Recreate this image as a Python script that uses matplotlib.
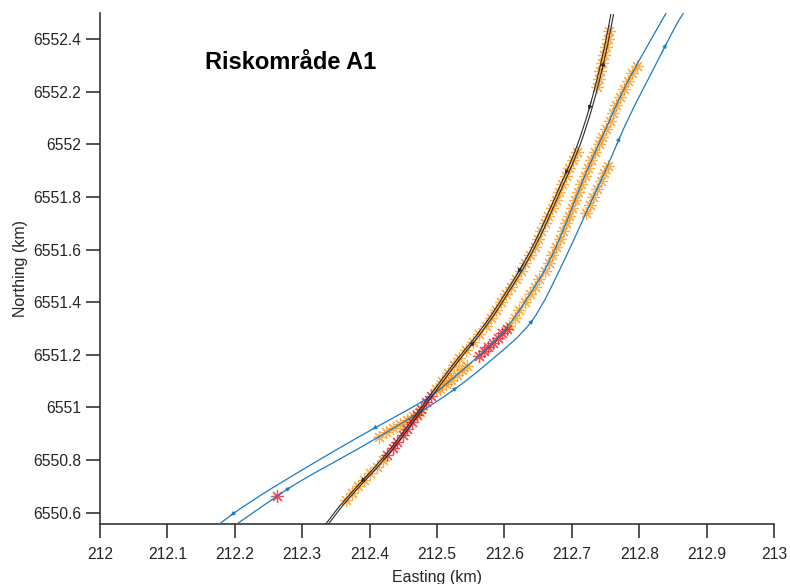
import numpy as np
import matplotlib
matplotlib.use('Agg')
import matplotlib.pyplot as plt
from matplotlib.path import Path
from matplotlib.patches import PathPatch

plt.rcParams['font.family'] = ['Liberation Sans', 'DejaVu Sans']

# Ship tracks (km)
black_y = [6550.557, 6550.648, 6550.808, 6550.934, 6551.055, 6551.192, 6551.295, 6551.439,
           6551.610, 6551.846, 6551.941, 6552.067, 6552.219, 6552.386, 6552.496]
black_a_x = [212.335, 212.362, 212.421, 212.458, 212.492, 212.532, 212.566, 212.603,
             212.643, 212.683, 212.700, 212.718, 212.735, 212.750, 212.758]
black_b_x = [212.339, 212.366, 212.425, 212.462, 212.496, 212.536, 212.570, 212.607,
             212.647, 212.687, 212.704, 212.722, 212.739, 212.754, 212.762]

blue1_x = [212.177, 212.217, 212.297, 212.386, 212.429, 212.475, 212.500, 212.534, 212.559, 212.605,
           212.639, 212.665, 212.691, 212.712, 212.736, 212.752, 212.774, 212.800, 212.840]
blue1_y = [6550.557, 6550.633, 6550.759, 6550.892, 6550.952, 6551.017, 6551.059, 6551.135, 6551.188, 6551.302,
           6551.435, 6551.542, 6551.694, 6551.838, 6551.979, 6552.067, 6552.196, 6552.321, 6552.500]

blue2_x = [212.203, 212.263, 212.297, 212.356, 212.414, 212.475, 212.504, 212.549, 212.593, 212.628, 212.653,
           212.682, 212.703, 212.721, 212.739, 212.757, 212.782, 212.819, 212.856, 212.866]
blue2_y = [6550.557, 6550.664, 6550.721, 6550.804, 6550.888, 6550.983, 6551.029, 6551.112, 6551.207, 6551.285, 6551.371,
           6551.523, 6551.637, 6551.740, 6551.838, 6551.941, 6552.093, 6552.276, 6552.462, 6552.500]

# Orange markers (warning)
orange_x = [212.365, 212.374, 212.383, 212.392, 212.401, 212.411, 212.420,
            212.498, 212.507, 212.516, 212.525, 212.533, 212.543, 212.553, 212.563, 212.572, 212.580,
            212.587, 212.595, 212.603, 212.610, 212.617, 212.624, 212.631, 212.638, 212.645, 212.650,
            212.655, 212.660, 212.665, 212.670, 212.676, 212.681, 212.686, 212.691, 212.696, 212.702, 212.707,
            212.737, 212.740, 212.742, 212.745, 212.748, 212.751, 212.753, 212.755,
            212.414, 212.425, 212.435, 212.445, 212.455, 212.465, 212.475,
            212.505, 212.513, 212.521, 212.529, 212.537, 212.545,
            212.607, 212.615, 212.622, 212.630, 212.638, 212.645, 212.652, 212.660, 212.666, 212.671,
            212.677, 212.682, 212.687, 212.692, 212.696, 212.701, 212.705, 212.709, 212.714, 212.719,
            212.724, 212.729, 212.734, 212.740, 212.745, 212.751, 212.756, 212.761, 212.766, 212.771,
            212.777, 212.783, 212.789, 212.796,
            212.721, 212.727, 212.732, 212.738, 212.743, 212.748, 212.753]
orange_y = [6550.650, 6550.675, 6550.700, 6550.725, 6550.750, 6550.775, 6550.800,
            6551.07, 6551.10, 6551.13, 6551.16, 6551.19, 6551.22, 6551.25, 6551.28, 6551.31, 6551.34,
            6551.37, 6551.40, 6551.43, 6551.46, 6551.49, 6551.52, 6551.55, 6551.58, 6551.61, 6551.64,
            6551.67, 6551.70, 6551.73, 6551.76, 6551.79, 6551.82, 6551.85, 6551.88, 6551.91, 6551.94, 6551.97,
            6552.22, 6552.25, 6552.28, 6552.31, 6552.34, 6552.37, 6552.40, 6552.43,
            6550.888, 6550.905, 6550.922, 6550.937, 6550.952, 6550.968, 6550.983,
            6551.070, 6551.088, 6551.106, 6551.124, 6551.141, 6551.158,
            6551.31, 6551.34, 6551.37, 6551.40, 6551.43, 6551.46, 6551.49, 6551.52, 6551.55, 6551.58,
            6551.61, 6551.64, 6551.67, 6551.70, 6551.73, 6551.76, 6551.79, 6551.82, 6551.85, 6551.88,
            6551.91, 6551.94, 6551.97, 6552.00, 6552.03, 6552.06, 6552.09, 6552.12, 6552.15, 6552.18,
            6552.21, 6552.24, 6552.27, 6552.30,
            6551.74, 6551.77, 6551.80, 6551.83, 6551.86, 6551.89, 6551.92]

# Red markers (alarm)
red_x = [212.426, 212.434, 212.441, 212.449, 212.456, 212.463, 212.470, 212.477, 212.484, 212.491,
         212.562, 212.569, 212.576, 212.583, 212.590, 212.597, 212.604,
         212.263]
red_y = [6550.820, 6550.845, 6550.870, 6550.895, 6550.920, 6550.945, 6550.970, 6550.995, 6551.020, 6551.045,
         6551.195, 6551.213, 6551.230, 6551.247, 6551.265, 6551.282, 6551.300,
         6550.664]

xticks = [212, 212.1, 212.2, 212.3, 212.4, 212.5, 212.6, 212.7, 212.8, 212.9, 213]
xticklabels = ['212', '212.1', '212.2', '212.3', '212.4', '212.5', '212.6', '212.7', '212.8', '212.9', '213']
yticks = [6550.6, 6550.8, 6551, 6551.2, 6551.4, 6551.6, 6551.8, 6552, 6552.2, 6552.4]
yticklabels = ['6550.6', '6550.8', '6551', '6551.2', '6551.4', '6551.6', '6551.8', '6552', '6552.2', '6552.4']

mblue = '#1a7cc4'
dark = '#2a2a2a'
asterisk = (8, 2, 0)

fig = plt.figure(figsize=(7.9, 5.84), dpi=100)
ax = fig.add_axes([100/790, 60/584, 674/790, 511/584])


def track(xs, ys, c, lw):
    # smooth quadratic curve through the midpoints of the track points
    p = np.column_stack([xs, ys])
    verts = [p[0], (p[0] + p[1]) / 2]
    codes = [Path.MOVETO, Path.LINETO]
    for i in range(1, len(p) - 1):
        verts += [p[i], (p[i] + p[i + 1]) / 2]
        codes += [Path.CURVE3, Path.CURVE3]
    verts.append(p[-1])
    codes.append(Path.LINETO)
    ax.add_patch(PathPatch(Path(verts, codes), fill=False, edgecolor=c, lw=lw, zorder=3))


def arrow(xs, ys, i, forward, c):
    # small direction head in the middle of segment i -> i+1
    p0 = np.array([xs[i], ys[i]])
    p1 = np.array([xs[i + 1], ys[i + 1]])
    mid = (p0 + p1) / 2
    d = p1 - p0 if forward else p0 - p1
    ax.annotate('', xy=mid + 0.08 * d, xytext=mid - 0.12 * d,
                arrowprops=dict(arrowstyle='-|>', color=c, lw=0.7, mutation_scale=6,
                                shrinkA=0, shrinkB=0), zorder=4)


ax.plot(orange_x, orange_y, ls='none', marker=asterisk, ms=9, mew=0.9, color='#FF8C00', alpha=0.7, zorder=2)
ax.plot(red_x, red_y, ls='none', marker=asterisk, ms=9, mew=0.9, color='#F0141E', alpha=0.75, zorder=2)

track(blue1_x, blue1_y, mblue, 0.9)
track(blue2_x, blue2_y, mblue, 0.9)
track(black_a_x, black_y, dark, 0.8)
track(black_b_x, black_y, dark, 0.8)

for i in [0, 3]:
    arrow(blue1_x, blue1_y, i, False, mblue)
for i in [1, 6, 9, 15, 17]:
    arrow(blue2_x, blue2_y, i, True, mblue)
for i in [1, 7, 9, 11]:
    arrow(black_a_x, black_y, i, False, dark)
for i in [5, 12]:
    arrow(black_b_x, black_y, i, True, dark)

ax.text(212.156, 6552.31, 'Riskområde A1', fontsize=17, fontweight='bold', va='center', ha='left')

ax.set_xlim(212, 213)
ax.set_ylim(6550.557, 6552.5)
ax.set_xticks(xticks)
ax.set_xticklabels(xticklabels)
ax.set_yticks(yticks)
ax.set_yticklabels(yticklabels)
ax.set_xlabel('Easting (km)', fontsize=11.5, color='#262626', labelpad=6)
ax.set_ylabel('Northing (km)', fontsize=11.5, color='#262626', labelpad=4)

for s in ['top', 'right']:
    ax.spines[s].set_visible(False)
for s in ['left', 'bottom']:
    ax.spines[s].set_color('#262626')
    ax.spines[s].set_linewidth(1.1)
ax.tick_params(axis='both', direction='out', length=10, width=1.1, colors='#262626', labelsize=11.3)
ax.tick_params(axis='x', pad=6.5)
ax.tick_params(axis='y', pad=3.5)

fig.savefig('out.png', dpi=100)
